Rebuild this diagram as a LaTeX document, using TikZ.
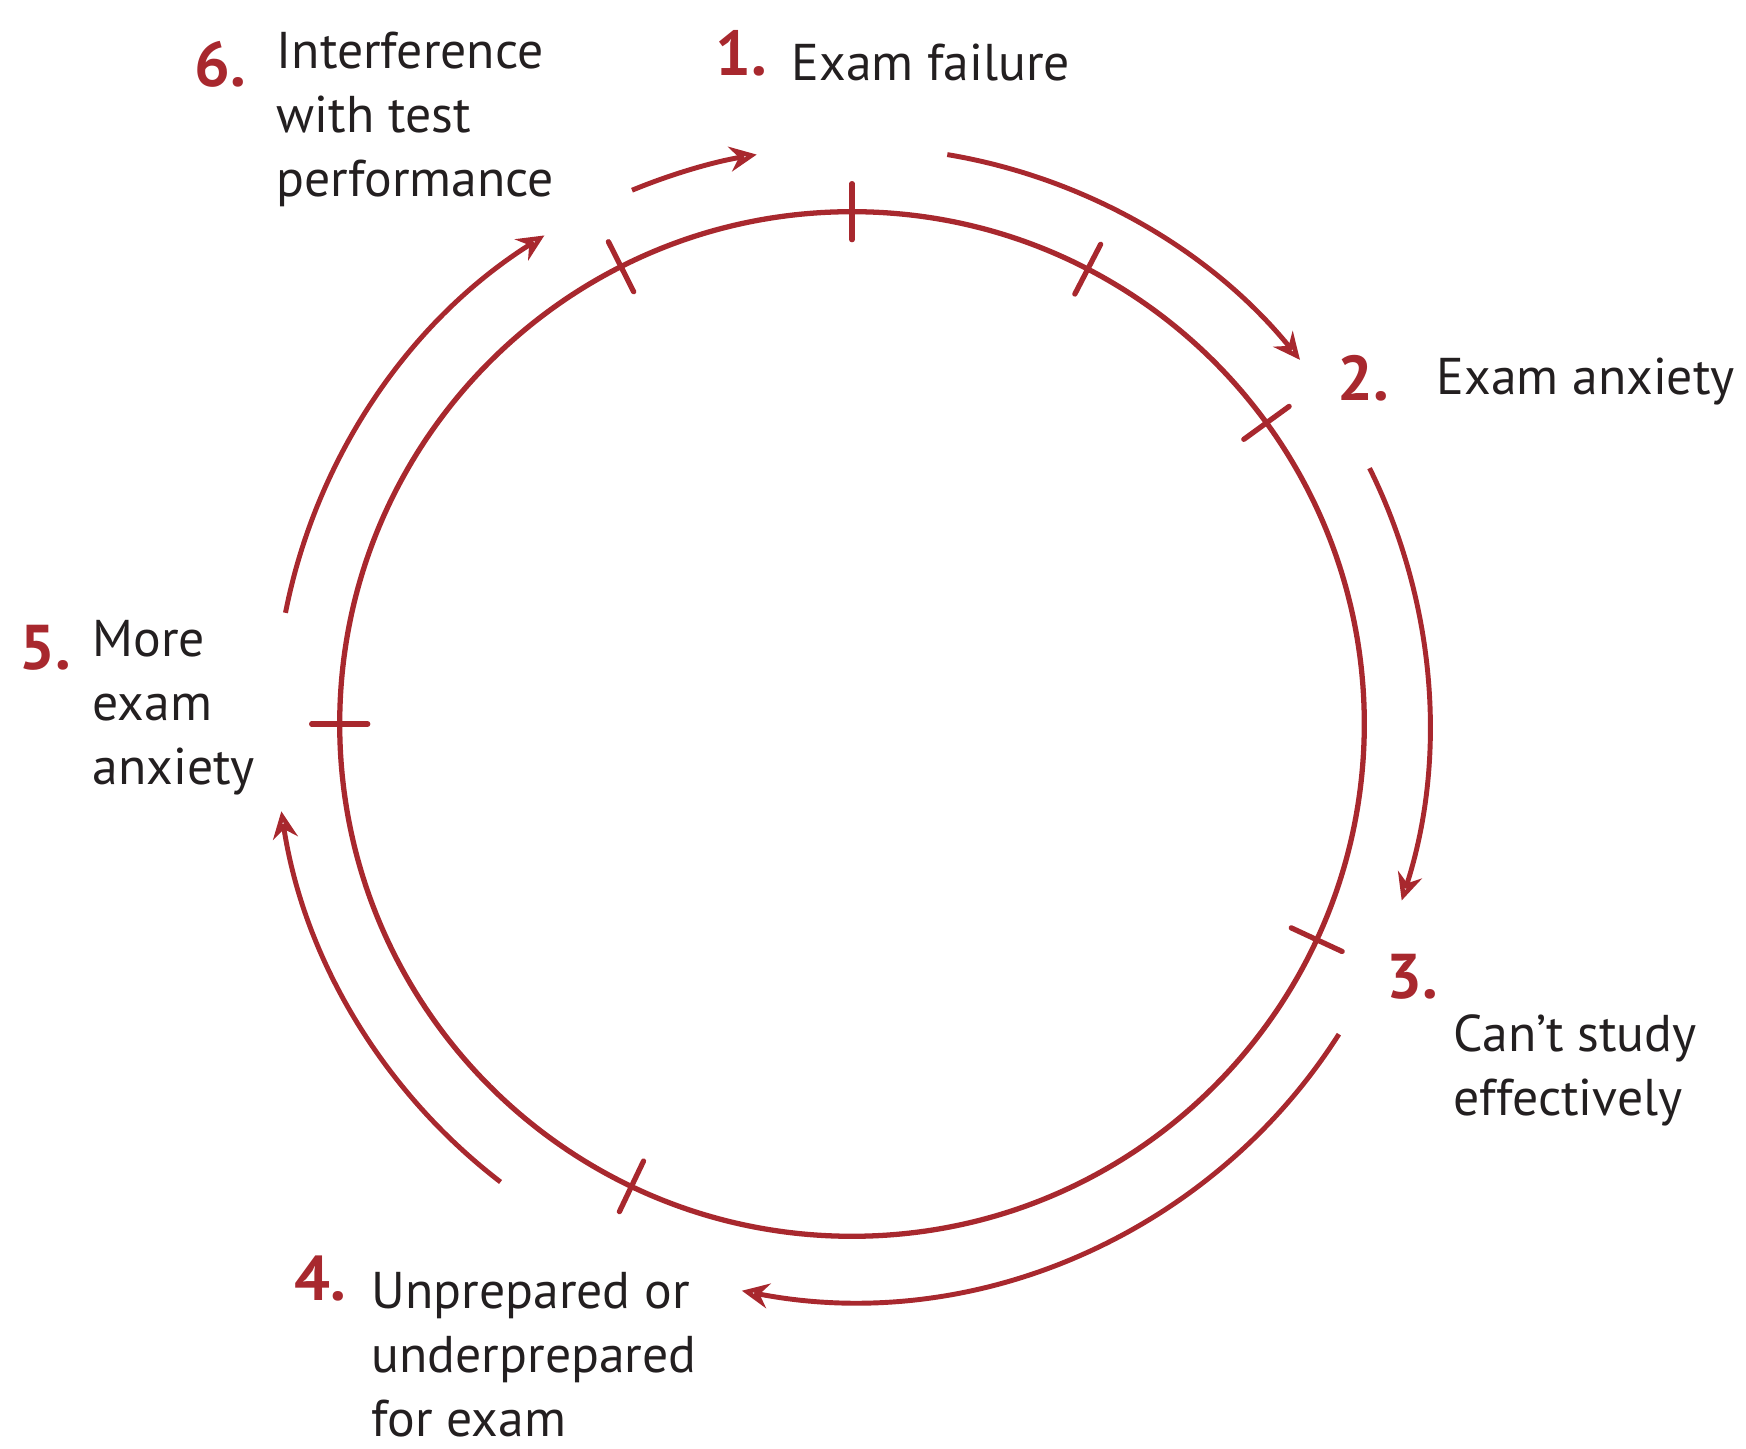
\documentclass[tikz,border=0pt]{standalone}
\usepackage{fontspec}
\setmainfont{PT Sans}
\usetikzlibrary{arrows.meta,calc}
\definecolor{cred}{RGB}{168,40,46}
\definecolor{ctxt}{RGB}{35,31,32}
\begin{document}
\begin{tikzpicture}[x=0.01cm,y=0.01cm,
  txt/.style={anchor=base west, align=left, text=ctxt, font=\fontsize{14.7}{18.2}\selectfont, inner sep=0},
  num/.style={anchor=base east, text=cred, font=\fontsize{18}{20}\selectfont\bfseries, inner sep=0},
  ring/.style={draw=cred, line width=1.5pt},
  tickmark/.style={draw=cred, line width=1.5pt, line cap=round},
  flow/.style={draw=cred, line width=1.4pt, -{Stealth[open,length=0.27cm,width=0.25cm,inset=0.09cm]}},
]
\useasboundingbox (0,0) rectangle (1746,1449);
\coordinate (c) at (852,725);
% main ring
\draw[ring] (c) circle[radius=5.12cm];
% tick marks
\foreach \a in {90,116.8,62.6,36,180,-24.9,-115.5}{
  \draw[tickmark] ($(c)+(\a:4.84cm)$) -- ($(c)+(\a:5.40cm)$);
}
% labels (base = baseline of the last line)
\node[num] (n1) at (768,1373) {1.};
\node[txt] (t1) at (791,1368) {Exam failure};
\node[num] (n2) at (1390,1048) {2.};
\node[txt] (t2) at (1436,1054) {Exam anxiety};
\node[num] (n3) at (1439,450) {3.};
\node[txt] (t3) at (1453,333) {Can’t study\\effectively};
\node[num] (n4) at (347,148) {4.};
\node[txt] (t4) at (371,12) {Unprepared or\\underprepared\\for exam};
\node[num] (n5) at (72,779) {5.};
\node[txt] (t5) at (92,664) {More\\exam\\anxiety};
\node[num] (n6) at (247,1362) {6.};
\node[txt] (t6) at (276,1252) {Interference\\with test\\performance};
% arrow end points on the outer arc
\coordinate (a1s) at ($(c)+(80.5:5.77cm)$);
\coordinate (a2s) at ($(c)+(26.3:5.77cm)$);
\coordinate (a3s) at ($(c)+(-32.5:5.77cm)$);
\coordinate (a4s) at ($(c)+(-127.5:5.77cm)$);
\coordinate (a5s) at ($(c)+(168.9:5.77cm)$);
\coordinate (a6s) at ($(c)+(112.4:5.77cm)$);
\draw[flow] (a1s) arc[start angle=80.5, end angle=39.1, radius=5.77cm];
\draw[flow] (a2s) arc[start angle=26.3, end angle=-17.8, radius=5.77cm];
\draw[flow] (a3s) arc[start angle=-32.5, end angle=-101, radius=5.77cm];
\draw[flow] (a4s) arc[start angle=-127.5, end angle=-171.3, radius=5.77cm];
\draw[flow] (a5s) arc[start angle=168.9, end angle=122.2, radius=5.77cm];
\draw[flow] (a6s) arc[start angle=112.4, end angle=99.5, radius=5.77cm];
\end{tikzpicture}
\end{document}
